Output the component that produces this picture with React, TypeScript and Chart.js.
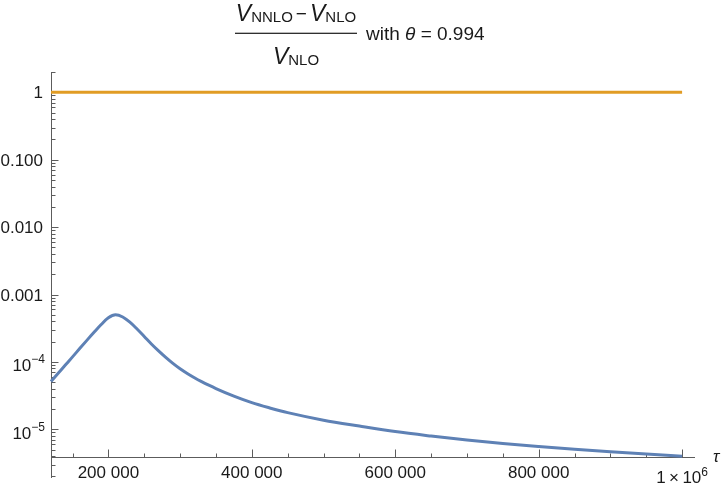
import React, { useEffect, useRef } from "react";
import { Chart, registerables } from "chart.js";

Chart.register(...registerables);

// ---- data ----
const tauValues = [
  120000, 130000, 140000, 150000, 160000, 170000, 180000, 190000, 200000,
  210000, 220000, 230000, 240000, 250000, 260000, 270000, 280000, 290000,
  300000, 310000, 320000, 330000, 340000, 350000, 375000, 400000, 425000,
  450000, 500000, 550000, 600000, 650000, 700000, 750000, 800000, 850000,
  900000, 950000, 1000000,
];
const ratioValues = [
  5.13e-5, 6.79e-5, 8.99e-5, 1.19e-4, 1.58e-4, 2.09e-4, 2.75e-4, 3.59e-4,
  4.53e-4, 5.02e-4, 4.65e-4, 3.89e-4, 3.08e-4, 2.39e-4, 1.85e-4, 1.46e-4,
  1.17e-4, 9.53e-5, 7.93e-5, 6.76e-5, 5.84e-5, 5.11e-5, 4.52e-5, 4.03e-5,
  3.11e-5, 2.49e-5, 2.08e-5, 1.77e-5, 1.37e-5, 1.12e-5, 9.27e-6, 7.96e-6,
  6.94e-6, 6.16e-6, 5.56e-6, 5.06e-6, 4.65e-6, 4.3e-6, 3.99e-6,
];
const refTau = [120000, 1000000];
const refValues = [1, 1];

const xTickValues = [200000, 400000, 600000, 800000, 1000000];
const xTickLabels = ["200 000", "400 000", "600 000", "800 000", "1\u2009×\u200910^6"];
const yTickValues = [1e-5, 1e-4, 1e-3, 1e-2, 1e-1, 1];
const yTickLabels = ["10^−5", "10^−4", "0.001", "0.010", "0.100", "1"];

const X_MIN = 120000;
const X_MAX = 1018000;
const Y_MIN = 1.9e-6;
const Y_MAX = 2;
const AXIS_CROSS_Y = 3.9e-6;

const FONT = '"Liberation Sans", Arial, sans-serif';
const AXIS_COLOR = "#5c5c5c";
const TEXT_COLOR = "#1a1a1a";
const BLUE = "#5e81b5";
const ORANGE = "#e19c24";

type Part = { text: string; font: string; dy?: number; pre?: number; post?: number };

function partsWidth(ctx: CanvasRenderingContext2D, parts: Part[]) {
  let w = 0;
  for (const p of parts) {
    ctx.font = p.font;
    w += (p.pre || 0) + ctx.measureText(p.text).width + (p.post || 0);
  }
  return w;
}

function drawParts(
  ctx: CanvasRenderingContext2D,
  parts: Part[],
  x: number,
  y: number,
  align: "left" | "center" | "right"
) {
  const w = partsWidth(ctx, parts);
  let cx = align === "left" ? x : align === "center" ? x - w / 2 : x - w;
  ctx.textAlign = "left";
  ctx.textBaseline = "alphabetic";
  for (const p of parts) {
    ctx.font = p.font;
    cx += p.pre || 0;
    ctx.fillText(p.text, cx, y + (p.dy || 0));
    cx += ctx.measureText(p.text).width + (p.post || 0);
  }
}

function line(ctx: CanvasRenderingContext2D, x1: number, y1: number, x2: number, y2: number) {
  ctx.beginPath();
  ctx.moveTo(x1, y1);
  ctx.lineTo(x2, y2);
  ctx.stroke();
}

const mmaPlugin = {
  id: "mmaAxes",
  beforeDatasetsDraw(chart: any) {
    const { ctx, chartArea } = chart;
    const xs = chart.scales.x;
    const ys = chart.scales.y;
    ctx.save();
    ctx.strokeStyle = AXIS_COLOR;
    ctx.lineWidth = 1;
    const ax = Math.round(xs.getPixelForValue(X_MIN)) + 0.5;
    const ay = Math.round(ys.getPixelForValue(AXIS_CROSS_Y)) + 0.5;
    line(ctx, ax, chartArea.top, ax, chartArea.bottom);
    line(ctx, chartArea.left, ay, chartArea.right, ay);
    for (let v = 150000; v <= 1000000; v += 50000) {
      const px = Math.round(xs.getPixelForValue(v)) + 0.5;
      const major = xTickValues.includes(v);
      line(ctx, px, ay, px, ay - (major ? 8 : 4));
    }
    for (let n = -6; n <= 0; n++) {
      for (let k = 1; k <= 9; k++) {
        const v = k * Math.pow(10, n);
        if (v < Y_MIN || v > Y_MAX) continue;
        const py = Math.round(ys.getPixelForValue(v)) + 0.5;
        line(ctx, ax, py, ax + (k === 1 ? 7 : 4), py);
      }
    }
    ctx.restore();
  },
  afterDraw(chart: any) {
    const { ctx } = chart;
    const xs = chart.scales.x;
    const ys = chart.scales.y;
    ctx.save();
    ctx.fillStyle = TEXT_COLOR;
    const ax = xs.getPixelForValue(X_MIN);
    const ay = ys.getPixelForValue(AXIS_CROSS_Y);
    const f17 = `17px ${FONT}`;
    const f12 = `12px ${FONT}`;

    xTickValues.forEach((v, i) => {
      const px = xs.getPixelForValue(v);
      const lab = xTickLabels[i];
      if (lab.includes("^")) {
        const [b, e] = lab.split("^");
        drawParts(
          ctx,
          [
            { text: b, font: f17 },
            { text: e, font: f12, dy: -7 },
          ],
          px,
          ay + 26.5,
          "center"
        );
      } else {
        drawParts(ctx, [{ text: lab, font: f17 }], px, ay + 21, "center");
      }
    });

    yTickValues.forEach((v, i) => {
      const py = ys.getPixelForValue(v);
      const lab = yTickLabels[i];
      if (lab.includes("^")) {
        const [b, e] = lab.split("^");
        drawParts(
          ctx,
          [
            { text: b, font: f17 },
            { text: e, font: f12, dy: -8 },
          ],
          ax - 6,
          py + 9.5,
          "right"
        );
      } else {
        drawParts(ctx, [{ text: lab, font: f17 }], ax - 8, py + 6, "right");
      }
    });

    drawParts(ctx, [{ text: "τ", font: `italic 17px ${FONT}` }], 713, ay + 5, "left");

    // title
    const fV = `italic 23px ${FONT}`;
    const fSub = `15px ${FONT}`;
    const f19 = `19px ${FONT}`;
    const cx = 296;
    drawParts(
      ctx,
      [
        { text: "V", font: fV },
        { text: "NNLO", font: fSub, dy: 1 },
        { text: "−", font: f19, pre: 3, post: 3, dy: -1 },
        { text: "V", font: fV },
        { text: "NLO", font: fSub, dy: 1 },
      ],
      cx,
      20.7,
      "center"
    );
    drawParts(
      ctx,
      [
        { text: "V", font: fV },
        { text: "NLO", font: fSub, dy: 1 },
      ],
      cx,
      64,
      "center"
    );
    ctx.fillRect(235, 32.7, 122, 1.2);
    drawParts(
      ctx,
      [
        { text: "with ", font: f19 },
        { text: "θ", font: `italic 19px ${FONT}` },
        { text: " = 0.994", font: f19 },
      ],
      366,
      39.5,
      "left"
    );
    ctx.restore();
  },
};

export default function App() {
  const ref = useRef<HTMLCanvasElement | null>(null);
  useEffect(() => {
    if (!ref.current) return;
    const chart = new Chart(ref.current, {
      type: "scatter",
      data: {
        datasets: [
          {
            data: refTau.map((t, i) => ({ x: t, y: refValues[i] })),
            showLine: true,
            borderColor: ORANGE,
            backgroundColor: ORANGE,
            borderWidth: 3,
            pointRadius: 0,
            clip: 6,
          },
          {
            data: tauValues.map((t, i) => ({ x: t, y: ratioValues[i] })),
            showLine: true,
            borderColor: BLUE,
            backgroundColor: BLUE,
            borderWidth: 3,
            pointRadius: 0,
            cubicInterpolationMode: "monotone",
            clip: 6,
          },
        ],
      },
      options: {
        animation: false,
        responsive: false,
        devicePixelRatio: 1,
        events: [],
        layout: { padding: { left: 51, right: 27, top: 72, bottom: 11 } },
        plugins: {
          legend: { display: false },
          tooltip: { enabled: false },
          title: { display: false },
        },
        scales: {
          x: { type: "linear", min: X_MIN, max: X_MAX, display: false },
          y: { type: "logarithmic", min: Y_MIN, max: Y_MAX, display: false },
        },
      },
      plugins: [mmaPlugin],
    } as any);
    return () => chart.destroy();
  }, []);
  return (
    <div style={{ position: "absolute", left: 0, top: 0, width: 722, height: 489, background: "#fff" }}>
      <canvas ref={ref} width={722} height={489} style={{ display: "block" }} />
    </div>
  );
}
